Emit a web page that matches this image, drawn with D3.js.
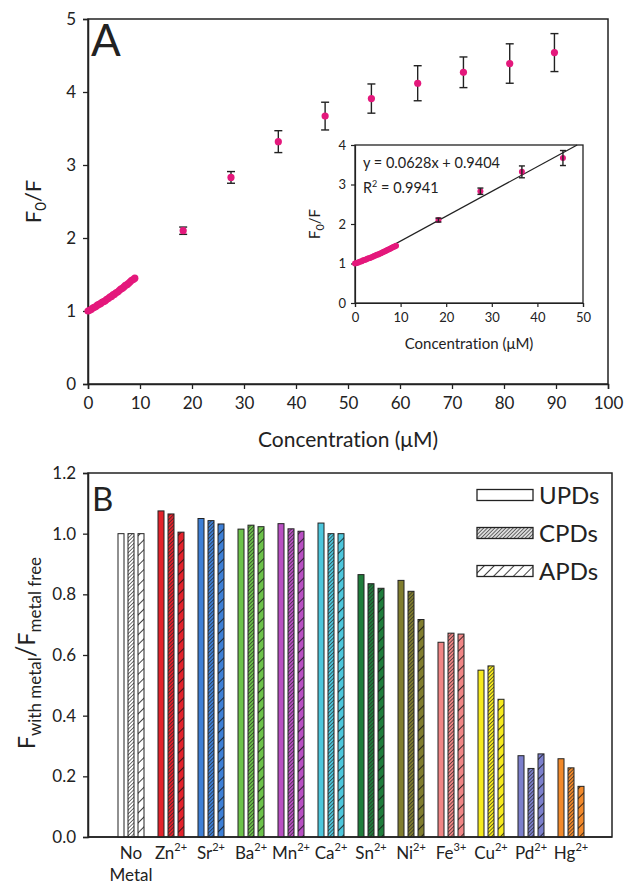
<!DOCTYPE html>
<html><head><meta charset="utf-8">
<script src="https://cdn.jsdelivr.net/npm/d3@7"></script>
<style>
body{margin:0;background:#fff}
svg{display:block}
text{font-family:Lato,"Open Sans",sans-serif;fill:#222;font-variant-ligatures:none;font-feature-settings:"liga" 0}
</style>
</head><body>
<svg id="c" width="624" height="884"></svg>
<script>
// ---------- Panel A data ----------
const concLow = [0,0.3,0.6,0.9,1.2,1.5,1.8,2.1,2.4,2.7,3.0,3.3,3.6,3.9,4.2,4.5,4.8,5.1,5.4,5.7,6.0,6.3,6.6,6.9,7.2,7.5,7.8,8.1,8.4,8.7,9.0];
const ratioLow = [1.00,1.01,1.02,1.04,1.05,1.06,1.08,1.09,1.10,1.12,1.13,1.14,1.16,1.17,1.19,1.20,1.22,1.23,1.25,1.26,1.28,1.30,1.31,1.33,1.35,1.36,1.38,1.40,1.42,1.43,1.45];
const concHigh = [18.3,27.5,36.6,45.6,54.5,63.4,72.2,81.1,89.7];
const ratioHigh = [2.10,2.83,3.32,3.67,3.91,4.12,4.27,4.39,4.54];
const errHigh = [0.05,0.08,0.15,0.19,0.20,0.24,0.21,0.27,0.26];
const fitSlope = 0.0628, fitIntercept = 0.9404;
const xTicksA = [0,10,20,30,40,50,60,70,80,90,100];
const yTicksA = [0,1,2,3,4,5];
const insetXTicks = [0,10,20,30,40,50];
const insetYTicks = [0,1,2,3,4];

// ---------- Panel B data ----------
const metals = ["No","Zn","Sr","Ba","Mn","Ca","Sn","Ni","Fe","Cu","Pd","Hg"];
const charges = ["","2+","2+","2+","2+","2+","2+","2+","3+","2+","2+","2+"];
const upd = [1.000,1.075,1.050,1.015,1.033,1.035,0.865,0.846,0.642,0.550,0.268,0.258];
const cpd = [1.000,1.065,1.043,1.028,1.016,1.000,0.835,0.810,0.672,0.564,0.226,0.228];
const apd = [1.000,1.005,1.032,1.023,1.008,1.000,0.820,0.717,0.669,0.454,0.274,0.167];
const metalColors = ["#ffffff","#e3222b","#3d7fd6","#6cc24a","#b84fc2","#4cc6dc","#1f7d3c","#807d2e","#f08585","#f6ea1e","#7b7fcc","#f2892a"];
const seriesNames = ["UPDs","CPDs","APDs"];
const yTicksB = [0,0.2,0.4,0.6,0.8,1.0,1.2];

const svg = d3.select("#c");
const ink = "#222";
const pink = "#e4187c";

function styleAxis(g, fs){
  g.selectAll(".domain").attr("stroke", ink).attr("stroke-width",1.5);
  g.selectAll(".tick line").attr("stroke", ink).attr("stroke-width",1.3);
  g.selectAll(".tick text").attr("fill", ink).attr("font-size", fs)
    .attr("font-family","Lato, 'Open Sans', sans-serif");
}

// ================= Panel A =================
const A = {l:88, r:608, t:19, b:384};
const xA = d3.scaleLinear().domain([0,100]).range([A.l, A.r]);
const yA = d3.scaleLinear().domain([0,5]).range([A.b, A.t]);

svg.append("rect").attr("x",A.l).attr("y",A.t).attr("width",A.r-A.l).attr("height",A.b-A.t)
  .attr("fill","none").attr("stroke",ink).attr("stroke-width",1.5);

const gxA = svg.append("g").attr("transform",`translate(0,${A.b})`)
  .call(d3.axisBottom(xA).tickValues(xTicksA).tickFormat(d3.format("d")).tickSize(5).tickPadding(8));
styleAxis(gxA, 17);
const gyA = svg.append("g").attr("transform",`translate(${A.l},0)`)
  .call(d3.axisLeft(yA).tickValues(yTicksA).tickFormat(d3.format("d")).tickSize(5).tickPadding(7));
styleAxis(gyA, 17);

svg.append("text").attr("x",(A.l+A.r)/2).attr("y",447).attr("text-anchor","middle")
  .attr("font-size",21).text("Concentration (μM)");
const ylabA = svg.append("text").attr("transform",`translate(41,${(A.t+A.b)/2}) rotate(-90)`)
  .attr("text-anchor","middle").attr("font-size",22);
ylabA.append("tspan").text("F");
ylabA.append("tspan").attr("font-size",15).attr("dy",5).text("0");
ylabA.append("tspan").attr("dy",-5).text("/F");

svg.append("text").attr("x",91).attr("y",56).attr("font-size",44).text("A");

const hiData = concHigh.map((c,i)=>({x:c,y:ratioHigh[i],e:errHigh[i]}));
const lowData = concLow.map((c,i)=>({x:c,y:ratioLow[i]}));
function drawErr(g, data, xs, ys, cap){
  const eg = g.append("g").attr("stroke",ink).attr("stroke-width",1.4);
  data.forEach(d=>{
    eg.append("line").attr("x1",xs(d.x)).attr("x2",xs(d.x)).attr("y1",ys(d.y-d.e)).attr("y2",ys(d.y+d.e));
    [d.y-d.e,d.y+d.e].forEach(v=>eg.append("line").attr("x1",xs(d.x)-cap).attr("x2",xs(d.x)+cap).attr("y1",ys(v)).attr("y2",ys(v)));
  });
}
drawErr(svg, hiData, xA, yA, 4);
svg.append("g").selectAll("circle").data(lowData.concat(hiData)).join("circle")
  .attr("cx",d=>xA(d.x)).attr("cy",d=>yA(d.y)).attr("r",3.6).attr("fill",pink);

// ---------- Inset ----------
const I = {l:355, r:583, t:145, b:303};
const xI = d3.scaleLinear().domain([0,50]).range([I.l, I.r]);
const yI = d3.scaleLinear().domain([0,4]).range([I.b, I.t]);
svg.append("rect").attr("x",I.l).attr("y",I.t).attr("width",I.r-I.l).attr("height",I.b-I.t)
  .attr("fill","#fff").attr("stroke",ink).attr("stroke-width",1.3);
const gxI = svg.append("g").attr("transform",`translate(0,${I.b})`)
  .call(d3.axisBottom(xI).tickValues(insetXTicks).tickFormat(d3.format("d")).tickSize(4).tickPadding(6));
styleAxis(gxI, 13);
const gyI = svg.append("g").attr("transform",`translate(${I.l},0)`)
  .call(d3.axisLeft(yI).tickValues(insetYTicks).tickFormat(d3.format("d")).tickSize(4).tickPadding(5));
styleAxis(gyI, 13);
gxI.selectAll(".domain, .tick line").attr("stroke-width",1.2);
gyI.selectAll(".domain, .tick line").attr("stroke-width",1.2);

svg.append("text").attr("x",(I.l+I.r)/2).attr("y",349).attr("text-anchor","middle")
  .attr("font-size",15).text("Concentration (μM)");
const ylabI = svg.append("text").attr("transform",`translate(320,${(I.t+I.b)/2}) rotate(-90)`)
  .attr("text-anchor","middle").attr("font-size",15);
ylabI.append("tspan").text("F");
ylabI.append("tspan").attr("font-size",11).attr("dy",4).text("0");
ylabI.append("tspan").attr("dy",-4).text("/F");

const xEnd = (4 - fitIntercept)/fitSlope;
svg.append("line").attr("x1",xI(0)).attr("y1",yI(fitIntercept)).attr("x2",xI(xEnd)).attr("y2",yI(fitSlope*xEnd+fitIntercept))
  .attr("stroke",ink).attr("stroke-width",1.3);
const insetHi = hiData.filter(d=>d.x<=50);
svg.append("g").selectAll("circle").data(lowData.concat(insetHi)).join("circle")
  .attr("cx",d=>xI(d.x)).attr("cy",d=>yI(d.y)).attr("r",3).attr("fill",pink);
drawErr(svg, insetHi, xI, yI, 3);

svg.append("text").attr("x",363).attr("y",168).attr("font-size",14.5)
  .text(`y = ${fitSlope}x + ${fitIntercept}`);
const r2 = svg.append("text").attr("x",363).attr("y",193).attr("font-size",14.5);
r2.append("tspan").text("R");
r2.append("tspan").attr("font-size",9).attr("dy",-6).text("2");
r2.append("tspan").attr("dy",6).text(" = 0.9941");

// ================= Panel B =================
const B = {l:88, r:612, t:473, b:837};
const xB = d3.scaleBand().domain(metals).range([111, 591]);
const yB = d3.scaleLinear().domain([0,1.2]).range([B.b, B.t]);

const defs = svg.append("defs");
function hatch(id, fill, spacing, sw, col){
  const p = defs.append("pattern").attr("id",id).attr("patternUnits","userSpaceOnUse")
    .attr("width",spacing).attr("height",spacing).attr("patternTransform","rotate(45)");
  p.append("rect").attr("width",spacing).attr("height",spacing).attr("fill",fill);
  p.append("line").attr("x1",0).attr("y1",0).attr("x2",0).attr("y2",spacing)
    .attr("stroke",col).attr("stroke-width",sw);
}
metalColors.forEach((c,i)=>{
  hatch("cpd"+i, c, 2.6, 1.3, "#2a2a2a");
  hatch("apd"+i, c, 7, 1.6, "#111");
});
hatch("cpdLeg","#ddd",2.6,1.3,"#2a2a2a");
hatch("apdLeg","#fff",7,1.6,"#111");

svg.append("rect").attr("x",B.l).attr("y",B.t).attr("width",B.r-B.l).attr("height",B.b-B.t)
  .attr("fill","none").attr("stroke",ink).attr("stroke-width",1.5);
const gyB = svg.append("g").attr("transform",`translate(${B.l},0)`)
  .call(d3.axisLeft(yB).tickValues(yTicksB).tickFormat(d3.format(".1f")).tickSize(5).tickPadding(7));
styleAxis(gyB, 17);

const series = [upd, cpd, apd];
const barW = 6, step = 10;
const bars = svg.append("g");
metals.forEach((m,i)=>{
  const cx = xB(m) + xB.bandwidth()/2;
  series.forEach((s,k)=>{
    const fill = k===0 ? metalColors[i] : (k===1 ? `url(#cpd${i})` : `url(#apd${i})`);
    bars.append("rect").attr("x", cx + (k-1)*step - barW/2).attr("y", yB(s[i]))
      .attr("width", barW).attr("height", yB(0)-yB(s[i]))
      .attr("fill", fill).attr("stroke", ink).attr("stroke-width",1);
  });
  const t = svg.append("text").attr("x",cx).attr("y",859).attr("text-anchor","middle").attr("font-size",17);
  t.append("tspan").text(m);
  if (charges[i]) t.append("tspan").attr("font-size",11).attr("dy",-8).text(charges[i]);
  if (m==="No") svg.append("text").attr("x",cx).attr("y",881).attr("text-anchor","middle").attr("font-size",17).text("Metal");
});
svg.append("line").attr("x1",B.l).attr("x2",B.r).attr("y1",B.b).attr("y2",B.b).attr("stroke",ink).attr("stroke-width",1.5);

svg.append("text").attr("x",92).attr("y",511).attr("font-size",33).text("B");

const legFills = ["#fff","url(#cpdLeg)","url(#apdLeg)"];
seriesNames.forEach((n,k)=>{
  const cy = 495 + k*38;
  svg.append("rect").attr("x",477).attr("y",cy-5.5).attr("width",56).attr("height",11)
    .attr("fill",legFills[k]).attr("stroke",ink).attr("stroke-width",1.3);
  svg.append("text").attr("x",539).attr("y",cy+8.5).attr("font-size",24).text(n);
});

const ylabB = svg.append("text").attr("transform",`translate(35,653) rotate(-90)`)
  .attr("text-anchor","middle").attr("font-size",23);
ylabB.append("tspan").text("F");
ylabB.append("tspan").attr("font-size",17).attr("dy",6).text("with metal");
ylabB.append("tspan").attr("dy",-6).attr("font-size",26).text("/");
ylabB.append("tspan").text("F");
ylabB.append("tspan").attr("font-size",17).attr("dy",6).text("metal free");
</script>
</body></html>
